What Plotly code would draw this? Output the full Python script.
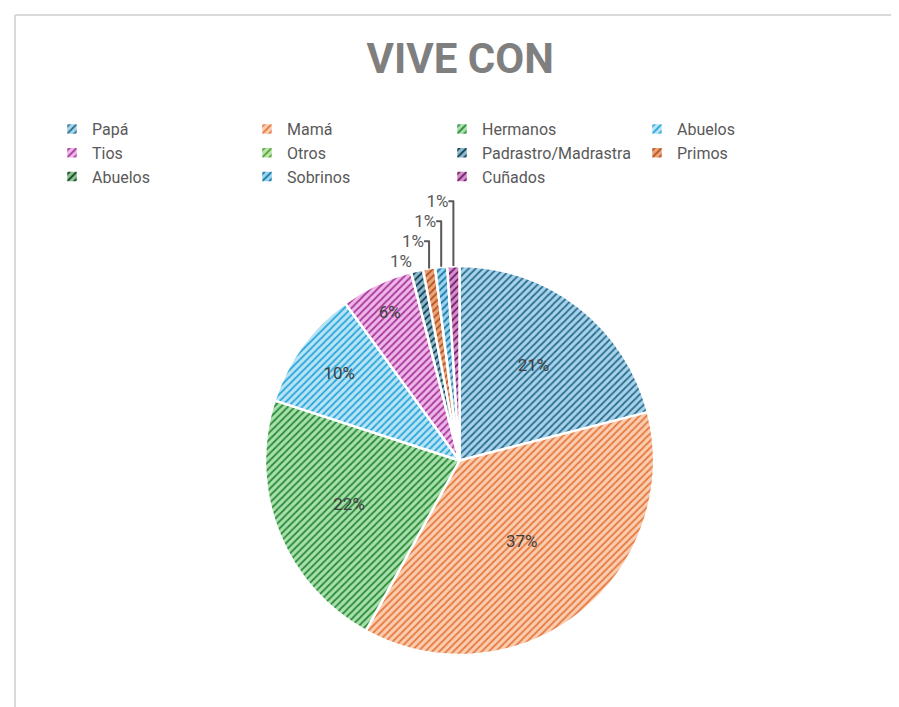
import plotly.graph_objects as go

# data
labels = ["Papá", "Mamá", "Hermanos", "Abuelos", "Tios", "Otros",
          "Padrastro/Madrastra", "Primos", "Abuelos ", "Sobrinos", "Cuñados"]
values = [21, 37, 22, 10, 6, 0, 1, 1, 0, 1, 1]

# colours: light background + darker stripes
bg_colors = ["#a9d3ea", "#fbcdb0", "#a8e0ab", "#b9e4f6", "#efb6e8", "#bfe3b0",
             "#8fb9cc", "#eba57a", "#8dbf93", "#9dd3ee", "#d590cc"]
fg_colors = ["#2a6f90", "#e57a40", "#2b8a3a", "#2aa6da", "#a7399b", "#4ea72e",
             "#0e3d52", "#b4521f", "#104718", "#1679a8", "#6e1d66"]

texts = [f"{v:.0f}%" if v > 0 else "" for v in values]
positions = ["inside" if v >= 5 else "outside" for v in values]

W, H = 899, 707
L, R, T, B = 52, 48, 258, 60

fig = go.Figure(
    go.Pie(
        labels=labels,
        values=values,
        text=texts,
        textinfo="text",
        textposition=positions,
        sort=False,
        direction="clockwise",
        rotation=0,
        marker=dict(
            colors=bg_colors,
            line=dict(color="white", width=2.5),
            pattern=dict(shape="/", fgcolor=fg_colors, bgcolor=bg_colors,
                         fillmode="replace", size=5, solidity=0.35),
        ),
        insidetextfont=dict(color="#404040", size=17),
        outsidetextfont=dict(color="#595959", size=17),
        insidetextorientation="horizontal",
        hoverinfo="label+percent",
    )
)

pw, ph = W - L - R, H - T - B
fig.update_layout(
    width=W,
    height=H,
    paper_bgcolor="white",
    plot_bgcolor="white",
    font=dict(family="Roboto, sans-serif", color="#595959", size=16),
    title=dict(
        text="<b>VIVE CON</b>",
        x=0.503,
        xanchor="center",
        y=1 - 50 / H,
        yanchor="middle",
        font=dict(size=42, color="#7f7f7f"),
    ),
    legend=dict(
        orientation="h",
        xref="container",
        yref="container",
        x=44 / W,
        xanchor="left",
        y=1 - 104 / H,
        yanchor="top",
        entrywidth=150,
        font=dict(size=16, color="#595959"),
        traceorder="normal",
    ),
    margin=dict(l=L, r=R, t=T, b=B, autoexpand=False),
    shapes=[
        dict(type="line", xref="paper", yref="paper",
             x0=(7 - L) / pw, x1=(W - L) / pw,
             y0=1 + (T - 7) / ph, y1=1 + (T - 7) / ph,
             line=dict(color="#d9d9d9", width=2)),
        dict(type="line", xref="paper", yref="paper",
             x0=(7 - L) / pw, x1=(7 - L) / pw,
             y0=1 + (T - 7) / ph, y1=-(B - 2) / ph,
             line=dict(color="#d9d9d9", width=2)),
    ],
)

fig.write_html("out.html")
